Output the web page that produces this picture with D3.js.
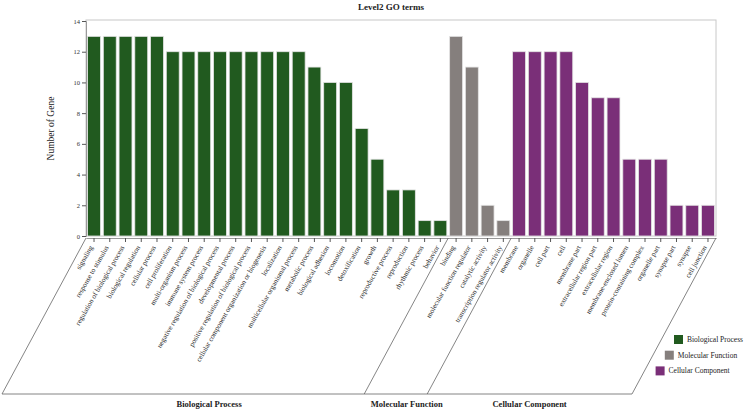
<!DOCTYPE html>
<html>
<head>
<meta charset="utf-8">
<script src="https://cdn.jsdelivr.net/npm/d3@7"></script>
<style>
  body { margin: 0; background: #fff; }
  svg { font-family: "Liberation Serif", "DejaVu Serif", serif; }
</style>
</head>
<body>
<div id="chart"></div>
<script>
// GO level 2 terms, one array per ontology
var bpTerms = ["signaling", "response to stimulus", "regulation of biological process",
    "biological regulation", "cellular process", "cell proliferation", "multi-organism process",
    "immune system process", "negative regulation of biological process", "developmental process",
    "positive regulation of biological process", "cellular component organization or biogenesis",
    "localization", "multicellular organismal process", "metabolic process", "biological adhesion",
    "locomotion", "detoxification", "growth", "reproductive process", "reproduction",
    "rhythmic process", "behavior"];
var bpCounts = [13, 13, 13, 13, 13, 12, 12, 12, 12, 12, 12, 12, 12, 12, 11, 10, 10, 7, 5, 3, 3, 1, 1];

var mfTerms = ["binding", "molecular function regulator", "catalytic activity",
    "transcription regulator activity"];
var mfCounts = [13, 11, 2, 1];

var ccTerms = ["membrane", "organelle", "cell part", "cell", "membrane part",
    "extracellular region part", "extracellular region", "membrane-enclosed lumen",
    "protein-containing complex", "organelle part", "synapse part", "synapse", "cell junction"];
var ccCounts = [12, 12, 12, 12, 10, 9, 9, 5, 5, 5, 2, 2, 2];

var groupNames = ["Biological Process", "Molecular Function", "Cellular Component"];
var groupColors = ["#215a1f", "#857f7d", "#7a2f78"];
var yTicks = [0, 2, 4, 6, 8, 10, 12, 14];

var width = 745, height = 411;
var plotLeft = 86, plotRight = 716, plotTop = 21, plotBottom = 236;
var axisY = 238, baseY = 394;
var slant = 84; // horizontal shift of the slanted divider lines

var terms = [bpTerms, mfTerms, ccTerms];
var counts = [bpCounts, mfCounts, ccCounts];
var data = [];
terms.forEach(function (list, g) {
    list.forEach(function (t, i) {
        data.push({ name: t, value: counts[g][i], group: g });
    });
});

var svg = d3.select("#chart").append("svg")
    .attr("width", width)
    .attr("height", height);

var x = d3.scaleBand()
    .domain(data.map(function (d) { return d.name; }))
    .range([plotLeft, plotRight])
    .paddingInner(0.18)
    .paddingOuter(0.1);

var y = d3.scaleLinear()
    .domain([0, 14])
    .range([plotBottom, plotTop]);

// frame
svg.append("rect")
    .attr("x", plotLeft)
    .attr("y", plotTop - 1)
    .attr("width", plotRight - plotLeft)
    .attr("height", plotBottom - plotTop + 1)
    .attr("fill", "none")
    .attr("stroke", "#c8c8c8");

// bars
svg.selectAll(".bar")
    .data(data)
    .enter()
    .append("rect")
    .attr("class", "bar")
    .attr("x", function (d) { return x(d.name); })
    .attr("y", function (d) { return y(d.value); })
    .attr("width", x.bandwidth())
    .attr("height", function (d) { return y(0) - y(d.value); })
    .attr("fill", function (d) { return groupColors[d.group]; })
    .attr("stroke", "#e4e4e4")
    .attr("stroke-width", 0.8);

// y axis
var yAxis = svg.append("g")
    .attr("transform", "translate(" + plotLeft + ",0)")
    .call(d3.axisLeft(y).tickValues(yTicks).tickSize(4).tickPadding(2));
yAxis.select(".domain").attr("stroke", "#999");
yAxis.selectAll(".tick line").attr("stroke", "#555");
yAxis.selectAll("text").attr("font-size", "6.5px").attr("fill", "#333")
    .attr("font-family", "Liberation Serif");

svg.append("text")
    .attr("transform", "translate(54," + ((plotTop + plotBottom) / 2) + ") rotate(-90)")
    .attr("text-anchor", "middle")
    .attr("font-size", "9.5px")
    .attr("fill", "#222")
    .text("Number of Gene");

// x axis
var xAxis = svg.append("g")
    .attr("transform", "translate(0," + axisY + ")")
    .call(d3.axisBottom(x).tickSize(4).tickSizeOuter(0));
xAxis.select(".domain").attr("stroke", "#999");
xAxis.selectAll(".tick line").attr("stroke", "#555");
xAxis.selectAll("text")
    .attr("font-size", "7.2px")
    .attr("fill", "#222")
    .attr("font-family", "Liberation Serif")
    .attr("text-anchor", "end")
    .attr("x", 0).attr("y", 0).attr("dy", "0.35em")
    .attr("transform", "translate(-3,8) rotate(-60)");

// title
svg.append("text")
    .attr("x", 391)
    .attr("y", 10)
    .attr("text-anchor", "middle")
    .attr("font-size", "9px")
    .attr("font-weight", "bold")
    .attr("fill", "#222")
    .text("Level2 GO terms");

// group parallelograms below the axis
var bounds = [0, bpTerms.length, bpTerms.length + mfTerms.length, data.length];
var step = x.step();
var edge = bounds.map(function (b, i) {
    if (i === 0) return plotLeft;
    if (i === bounds.length - 1) return plotRight;
    return x(data[b].name) - step * x.paddingInner() / 2;
});

edge.forEach(function (ex) {
    svg.append("line")
        .attr("x1", ex).attr("y1", axisY)
        .attr("x2", ex - slant).attr("y2", baseY)
        .attr("stroke", "#666")
        .attr("stroke-width", 0.8);
});
svg.append("line")
    .attr("x1", plotLeft - slant).attr("y1", baseY)
    .attr("x2", plotRight - slant).attr("y2", baseY)
    .attr("stroke", "#666")
    .attr("stroke-width", 0.8);

var labelShift = [26, 11, 0];
groupNames.forEach(function (g, i) {
    var cx = (edge[i] + edge[i + 1]) / 2 - slant + labelShift[i];
    svg.append("text")
        .attr("x", cx)
        .attr("y", 407)
        .attr("text-anchor", "middle")
        .attr("font-size", "8.5px")
        .attr("font-weight", "bold")
        .attr("fill", "#222")
        .text(g);
});

// legend
var legend = svg.selectAll(".legend")
    .data(groupNames)
    .enter()
    .append("g")
    .attr("class", "legend")
    .attr("transform", function (d, i) {
        return "translate(" + (674 - i * 9.2) + "," + (335 + i * 15.7) + ")";
    });
legend.append("rect")
    .attr("width", 9).attr("height", 9)
    .attr("fill", function (d, i) { return groupColors[i]; });
legend.append("text")
    .attr("x", 13).attr("y", 7)
    .attr("font-size", "7.5px")
    .attr("fill", "#222")
    .text(function (d) { return d; });
</script>
</body>
</html>
